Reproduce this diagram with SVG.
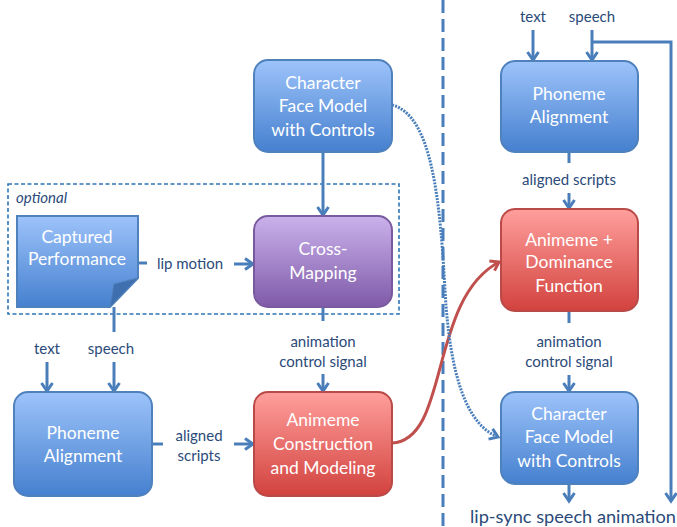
<svg xmlns="http://www.w3.org/2000/svg" width="677" height="527" viewBox="0 0 677 527">
<defs>
<linearGradient id="gBlue" x1="0" y1="0" x2="0" y2="1"><stop offset="0" stop-color="#9dc3fa"/><stop offset="1" stop-color="#4580cf"/></linearGradient>
<linearGradient id="gPurple" x1="0" y1="0" x2="0" y2="1"><stop offset="0" stop-color="#cab2ec"/><stop offset="1" stop-color="#7f5aa8"/></linearGradient>
<linearGradient id="gRed" x1="0" y1="0" x2="0" y2="1"><stop offset="0" stop-color="#ff9f9c"/><stop offset="1" stop-color="#d2423e"/></linearGradient>
<marker id="ab" markerUnits="userSpaceOnUse" markerWidth="16" markerHeight="16" refX="10" refY="7" orient="auto" viewBox="0 0 16 14">
<path d="M2,1.5 L10,7 L2,12.5" fill="none" stroke="#4a7ebb" stroke-width="3"/>
</marker>
<marker id="ar" markerUnits="userSpaceOnUse" markerWidth="16" markerHeight="16" refX="10" refY="7" orient="auto" viewBox="0 0 16 14">
<path d="M2,1.5 L10,7 L2,12.5" fill="none" stroke="#c0504d" stroke-width="3"/>
</marker>
</defs>
<style>
.bb{fill:url(#gBlue);stroke:#4f81bd;stroke-width:2}
.bp{fill:url(#gPurple);stroke:#7a5a9f;stroke-width:2}
.br{fill:url(#gRed);stroke:#b94a47;stroke-width:2}
.t{font-family:Lato,"Liberation Sans",sans-serif;font-size:17.5px;fill:#ffffff;text-anchor:middle}
.l{font-family:Lato,"Liberation Sans",sans-serif;font-size:15px;fill:#2b4a7a;text-anchor:middle}
.big{font-size:18.2px}
.c{fill:none;stroke:#4a7ebb;stroke-width:3}
</style>

<g id="divider"><line x1="443" y1="0" x2="443" y2="527" stroke="#4a7ebb" stroke-width="3" stroke-dasharray="13,6"/></g>

<g id="optional-group">
<rect x="8" y="184" width="391" height="130" fill="none" stroke="#2e75b6" stroke-width="1.6" stroke-dasharray="4,2.5"/>
<text x="16" y="203" font-family="Lato,'Liberation Sans',sans-serif" font-size="15" font-style="italic" fill="#2b4a7a">optional</text>
</g>

<g id="connectors">
<line class="c" x1="323" y1="152" x2="323" y2="215" marker-end="url(#ab)"/>
<line class="c" x1="138" y1="263" x2="147" y2="263"/>
<line class="c" x1="234" y1="264" x2="253" y2="264" marker-end="url(#ab)"/>
<line class="c" x1="323" y1="307" x2="323" y2="321"/>
<line class="c" x1="323" y1="374" x2="323" y2="391" marker-end="url(#ab)"/>
<line class="c" x1="114" y1="307" x2="114" y2="332"/>
<line class="c" x1="47" y1="362" x2="47" y2="391" marker-end="url(#ab)"/>
<line class="c" x1="114" y1="362" x2="114" y2="391" marker-end="url(#ab)"/>
<line class="c" x1="152" y1="444" x2="163" y2="444"/>
<line class="c" x1="234" y1="444" x2="253" y2="444" marker-end="url(#ab)"/>
<line class="c" x1="533" y1="30" x2="533" y2="60" marker-end="url(#ab)"/>
<line class="c" x1="592" y1="30" x2="592" y2="60" marker-end="url(#ab)"/>
<polyline class="c" points="592,42 671,42 671,501" marker-end="url(#ab)"/>
<line class="c" x1="569" y1="152" x2="569" y2="163"/>
<line class="c" x1="569" y1="193" x2="569" y2="208" marker-end="url(#ab)"/>
<line class="c" x1="569" y1="311" x2="569" y2="323"/>
<line class="c" x1="569" y1="375" x2="569" y2="391" marker-end="url(#ab)"/>
<line class="c" x1="569" y1="484" x2="569" y2="501" marker-end="url(#ab)"/>
<path d="M392,443 C450,440 428,300 499,262" fill="none" stroke="#c0504d" stroke-width="3" marker-end="url(#ar)"/>
<path d="M392,105 C432,115 440,200 445,290 C450,380 468,425 498,437" fill="none" stroke="#4a7ebb" stroke-width="3" stroke-dasharray="2,1.2" marker-end="url(#ab)"/>
</g>

<g id="labels">
<text class="l" x="190" y="269">lip motion</text>
<text class="l" x="323" y="347">animation</text>
<text class="l" x="323" y="367">control signal</text>
<text class="l" x="47" y="354">text</text>
<text class="l" x="111" y="354">speech</text>
<text class="l" x="199" y="441">aligned</text>
<text class="l" x="199" y="461">scripts</text>
<text class="l" x="533" y="22">text</text>
<text class="l" x="592" y="22">speech</text>
<text class="l" x="569" y="185">aligned scripts</text>
<text class="l" x="569" y="347">animation</text>
<text class="l" x="569" y="367">control signal</text>
<text class="l big" x="573" y="523">lip-sync speech animation</text>
</g>

<g id="face-model-top">
<rect class="bb" x="254" y="60" width="138" height="92" rx="14"/>
<text class="t" x="323" y="89">Character</text>
<text class="t" x="323" y="112">Face Model</text>
<text class="t" x="323" y="136">with Controls</text>
</g>

<g id="captured-performance">
<path class="bb" d="M17,216 H138 V278 L110,307 H17 Z"/>
<path d="M138,278 L114,284 L110,307 Z" fill="#3f6fae" stroke="#4f81bd" stroke-width="1"/>
<text class="t" x="77" y="243">Captured</text>
<text class="t" x="77" y="265">Performance</text>
</g>

<g id="cross-mapping">
<rect class="bp" x="254" y="216" width="138" height="91" rx="14"/>
<text class="t" x="323" y="255">Cross-</text>
<text class="t" x="323" y="279">Mapping</text>
</g>

<g id="phoneme-left">
<rect class="bb" x="14" y="392" width="138" height="104" rx="14"/>
<text class="t" x="83" y="439">Phoneme</text>
<text class="t" x="83" y="462">Alignment</text>
</g>

<g id="animeme-construction">
<rect class="br" x="254" y="392" width="138" height="104" rx="14"/>
<text class="t" x="323" y="426">Animeme</text>
<text class="t" x="323" y="450">Construction</text>
<text class="t" x="323" y="474">and Modeling</text>
</g>

<g id="phoneme-right">
<rect class="bb" x="501" y="61" width="137" height="91" rx="14"/>
<text class="t" x="569" y="100">Phoneme</text>
<text class="t" x="569" y="123">Alignment</text>
</g>

<g id="animeme-dominance">
<rect class="br" x="501" y="209" width="137" height="102" rx="14"/>
<text class="t" x="569" y="246">Animeme +</text>
<text class="t" x="569" y="268">Dominance</text>
<text class="t" x="569" y="292">Function</text>
</g>

<g id="face-model-right">
<rect class="bb" x="501" y="392" width="137" height="92" rx="14"/>
<text class="t" x="569" y="420">Character</text>
<text class="t" x="569" y="443">Face Model</text>
<text class="t" x="569" y="467">with Controls</text>
</g>
</svg>
